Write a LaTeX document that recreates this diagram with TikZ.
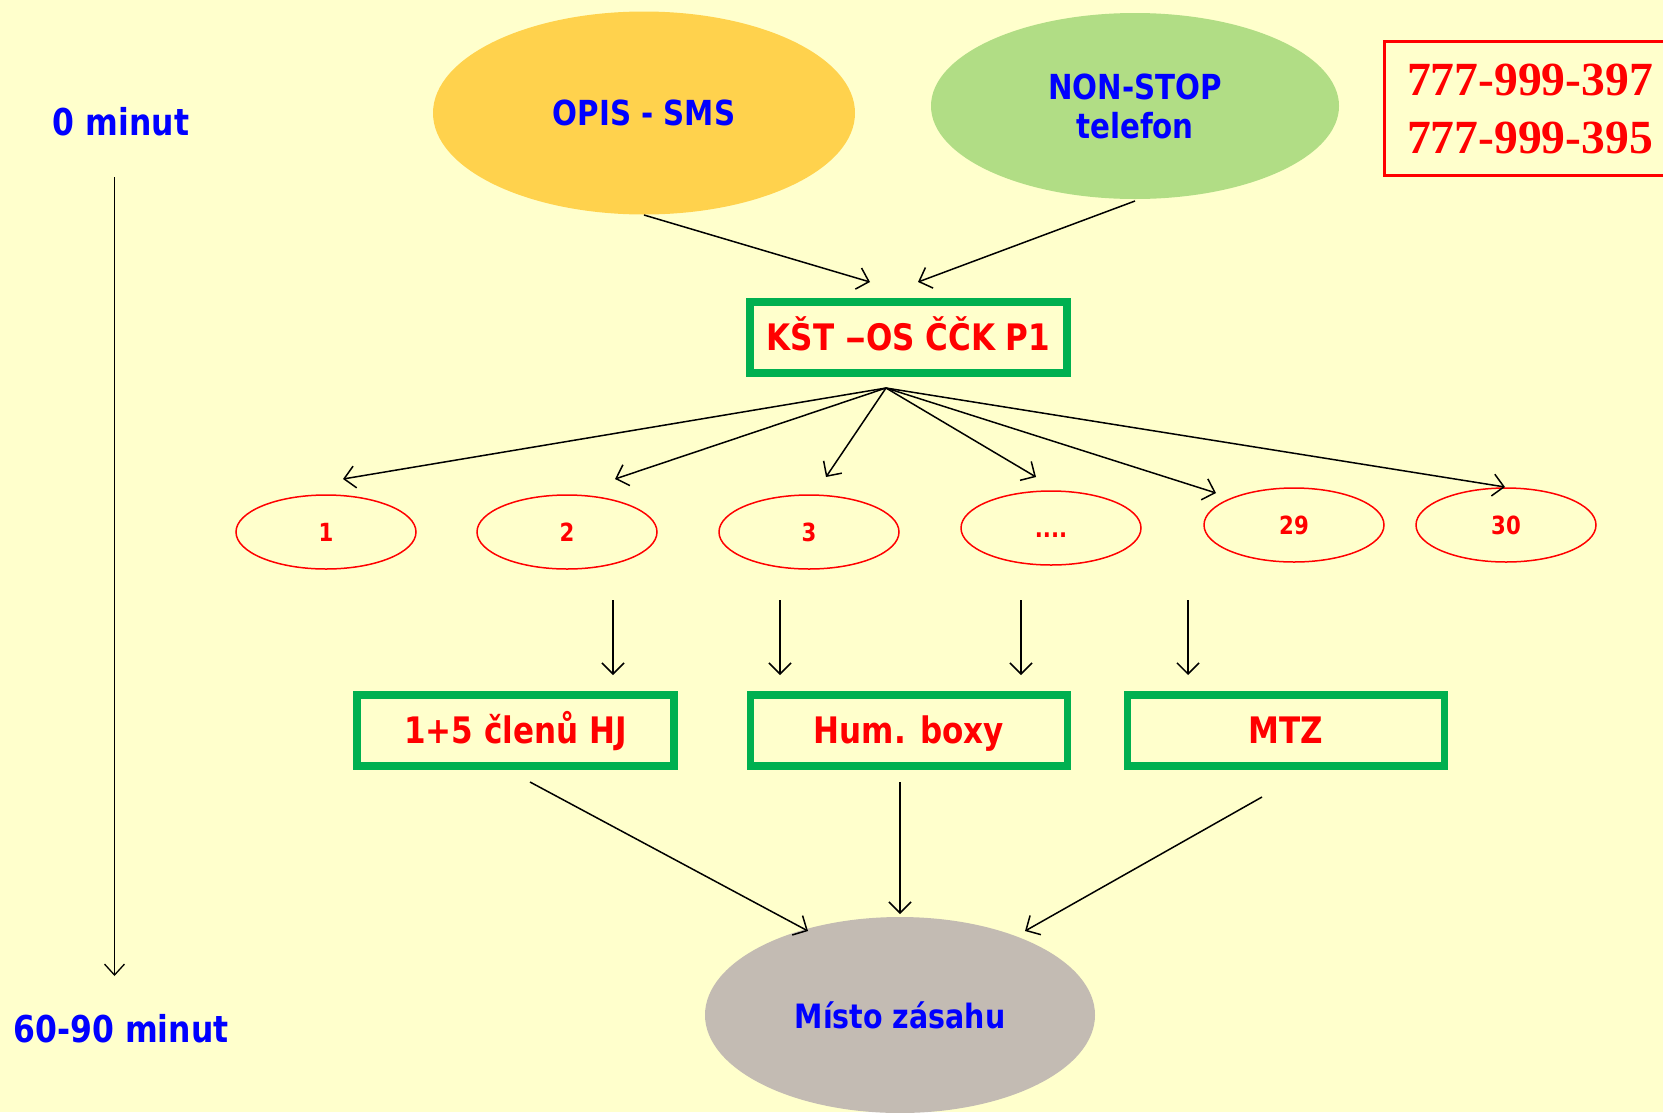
\documentclass[tikz,border=0pt]{standalone}
\usepackage{fontspec}
\newfontfamily\tf[FakeStretch=0.85]{DejaVu Sans}
\newfontfamily\phf{Liberation Serif}
\usetikzlibrary{shapes.geometric,arrows.meta}
\definecolor{bg}{HTML}{FFFFCC}
\definecolor{opisfill}{HTML}{FFD24D}
\definecolor{nonfill}{HTML}{B1DD85}
\definecolor{mistofill}{HTML}{C3BBB3}
\definecolor{boxgreen}{HTML}{00B050}
\definecolor{tblue}{HTML}{0000FF}
\definecolor{tred}{HTML}{FF0000}
\begin{document}
\begin{tikzpicture}[x=1pt,y=-1pt,
  bigell/.style={ellipse, inner sep=0pt, text=tblue, align=center,
    font=\tf\bfseries\fontsize{34.5}{39}\selectfont},
  gbox/.style={draw=boxgreen, line width=7.6pt, minimum width=317pt,
    minimum height=71pt, inner sep=0pt, text=tred, text height=26.6pt, text depth=0pt,
    font=\tf\bfseries\fontsize{36.5}{40}\selectfont},
  smallell/.style={ellipse, draw=tred, line width=1.5pt, minimum width=180pt,
    minimum height=74pt, inner sep=0pt, text=tred, text height=18pt, text depth=0pt,
    font=\tf\bfseries\fontsize{25}{28}\selectfont},
  timelbl/.style={text=tblue, inner sep=0pt, font=\tf\bfseries\fontsize{37}{40}\selectfont},
  arr/.style={-{Straight Barb[length=11pt,width=22pt]}, line width=1.5pt},
  tarr/.style={-{Straight Barb[length=11pt,width=20pt]}, line width=1.3pt}
]
\useasboundingbox (0,0) rectangle (1663,1112);
\fill[bg] (0,0) rectangle (1663,1112);

% time axis
\node[timelbl] (t0) at (121,122) {0 minut};
\node[timelbl] (t1) at (121,1029) {60-90 minut};
\coordinate (ts) at (114.5,177);
\coordinate (te) at (114.5,976);
\draw[tarr] (ts) -- (te);

% top ellipses
\node[bigell, fill=opisfill, minimum width=422pt, minimum height=203pt] (opis) at (644,113) {OPIS - SMS};
\node[bigell, fill=nonfill, minimum width=408pt, minimum height=186pt] (non) at (1135,106) {NON-STOP\\telefon};

% phone box
\node[draw=tred, line width=3pt, minimum width=292pt, minimum height=134pt, inner sep=0pt,
  text=tred, align=center, font=\phf\bfseries\fontsize{47.6}{58}\selectfont]
  (phone) at (1530,108.5) {777-999-397\\777-999-395};

% main box
\node[gbox] (kst) at (908.5,337.5) {KŠT \scalebox{1.35}[1]{–}OS ČČK P1};

\coordinate (o1) at (644,215);
\coordinate (k1) at (870,282);
\coordinate (n1) at (1135,201);
\coordinate (k2) at (918,282);
\draw[arr] (o1) -- (k1);
\draw[arr] (n1) -- (k2);

% small ellipses
\node[smallell] (e1) at (326,532) {1};
\node[smallell] (e2) at (567,532) {2};
\node[smallell] (e3) at (809,532) {3};
\node[smallell] (e4) at (1051,528) {....};
\node[smallell] (e29) at (1294,525) {29};
\node[smallell] (e30) at (1506,525) {30};

\coordinate (f0) at (886,388);
\coordinate (f1) at (343,479);
\coordinate (f2) at (615,479);
\coordinate (f3) at (826,477);
\coordinate (f4) at (1036,477);
\coordinate (f5) at (1216,493);
\coordinate (f6) at (1505,487);
\foreach \p in {f1,f2,f3,f4,f5,f6} \draw[arr] (f0) -- (\p);

% lower boxes
\node[gbox] (hj) at (515.5,730.5) {1+5 členů HJ};
\node[gbox] (hum) at (909,730.5) {Hum. boxy};
\node[gbox] (mtz) at (1286,730.5) {MTZ};

\coordinate (d1s) at (613,600); \coordinate (d1e) at (613,675);
\coordinate (d2s) at (780,600); \coordinate (d2e) at (780,675);
\coordinate (d3s) at (1021,600); \coordinate (d3e) at (1021,675);
\coordinate (d4s) at (1188,600); \coordinate (d4e) at (1188,675);
\draw[arr] (d1s) -- (d1e);
\draw[arr] (d2s) -- (d2e);
\draw[arr] (d3s) -- (d3e);
\draw[arr] (d4s) -- (d4e);

% target
\node[bigell, fill=mistofill, minimum width=390pt, minimum height=196pt,
  font=\tf\bfseries\fontsize{33.5}{38}\selectfont] (misto) at (900,1015) {Místo zásahu};

\coordinate (m1s) at (530,782); \coordinate (m1e) at (808,931);
\coordinate (m2s) at (900,782); \coordinate (m2e) at (900,914);
\coordinate (m3s) at (1262,797); \coordinate (m3e) at (1025,931);
\draw[arr] (m1s) -- (m1e);
\draw[arr] (m2s) -- (m2e);
\draw[arr] (m3s) -- (m3e);
\end{tikzpicture}
\end{document}
